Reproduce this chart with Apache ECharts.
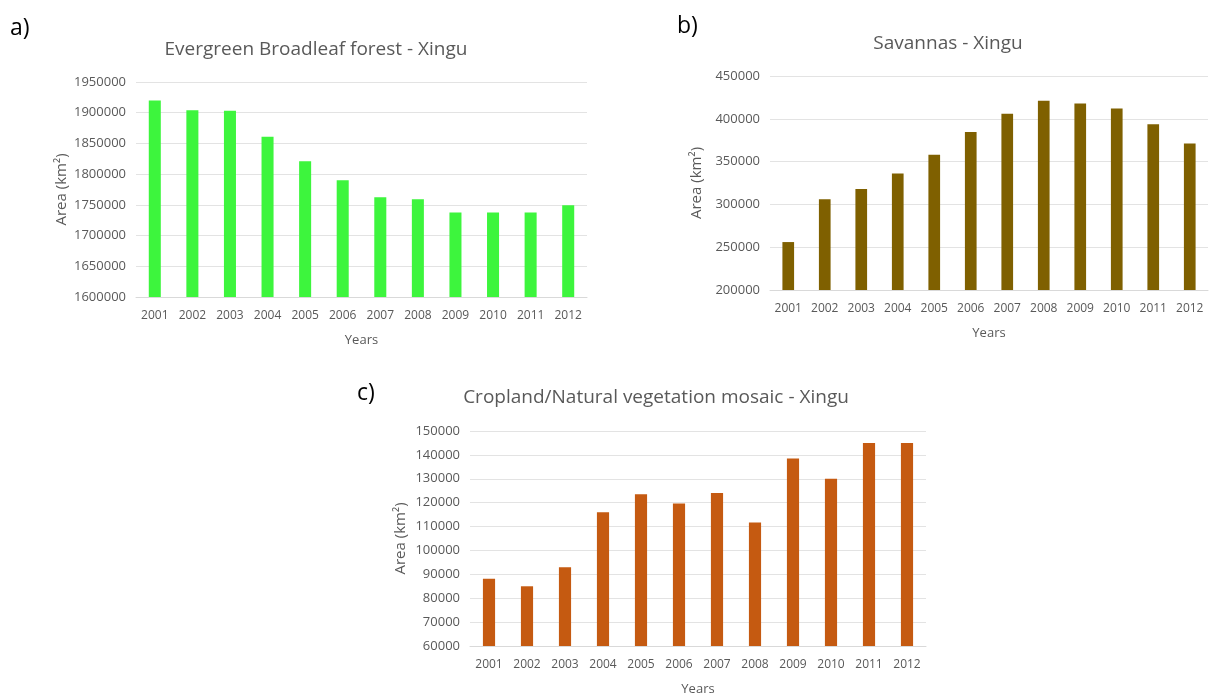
<!DOCTYPE html>
<html>
<head>
<meta charset="utf-8">
<script src="https://cdn.jsdelivr.net/npm/echarts@6/dist/echarts.min.js"></script>
<style>html,body{margin:0;padding:0;background:#fff}#c{width:1210px;height:693px}</style>
</head>
<body>
<div id="c"></div>
<script>
const years = ['2001','2002','2003','2004','2005','2006','2007','2008','2009','2010','2011','2012'];
const evergreen = [1920000, 1904000, 1903000, 1861000, 1821000, 1790000, 1762500, 1759000, 1737500, 1737500, 1737500, 1749500];
const savannas = [256000, 306000, 318000, 336000, 358000, 384500, 406000, 421000, 418000, 412000, 393500, 371000];
const cropland = [88200, 85000, 93000, 116000, 123500, 119700, 124000, 111700, 138500, 130000, 145000, 145000];
const titles = ['Evergreen Broadleaf forest - Xingu', 'Savannas - Xingu', 'Cropland/Natural vegetation mosaic - Xingu'];
const panelLabels = ['a)', 'b)', 'c)'];

const FONT = '"Open Sans", sans-serif';
const grey = '#595959';
const grids = [
  {left:136, top:82, width:451, height:215},
  {left:770, top:76, width:438, height:214},
  {left:470, top:431, width:456, height:215}
];
const yCfg = [
  {min:1600000, max:1950000, interval:50000, gap:67},
  {min:200000, max:450000, interval:50000, gap:66},
  {min:60000, max:150000, interval:10000, gap:62}
];
const colors = ['#3df53d', '#7f6000', '#c55a11'];
const data = [evergreen, savannas, cropland];
const titlePos = [{x:316,y:50},{x:948,y:44},{x:656,y:398}];
const labelPos = [{x:10,y:28},{x:677,y:26},{x:357,y:393}];

const option = {
  animation:false,
  backgroundColor:'#fff',
  grid: grids.map(g => Object.assign({containLabel:false, outerBoundsMode:'none'}, g)),
  xAxis: grids.map((g,i) => ({
    type:'category', gridIndex:i, data:years,
    axisLine:{lineStyle:{color:'#d9d9d9'}},
    axisTick:{show:false},
    axisLabel:{color:grey, fontFamily:FONT, fontSize:12, margin:13, interval:0},
    name:'Years', nameLocation:'middle', nameGap:37,
    nameTextStyle:{color:grey, fontFamily:FONT, fontSize:13}
  })),
  yAxis: yCfg.map((y,i) => ({
    type:'value', gridIndex:i, min:y.min, max:y.max, interval:y.interval,
    axisLine:{show:false}, axisTick:{show:false},
    splitLine:{lineStyle:{color:'#e3e3e3'}},
    axisLabel:{color:grey, fontFamily:FONT, fontSize:13, margin:10, formatter: v => String(v)},
    name:'Area (km²)', nameLocation:'middle', nameGap:y.gap,
    nameTextStyle:{color:grey, fontFamily:FONT, fontSize:15}
  })),
  series: data.map((d,i) => ({
    type:'bar', xAxisIndex:i, yAxisIndex:i, data:d, barWidth:'32%',
    itemStyle:{color:colors[i]}
  })),
  graphic: titles.map((t,i) => ({
    type:'text', x:titlePos[i].x, y:titlePos[i].y,
    style:{text:t, fill:grey, font:'19px '+FONT, textAlign:'center', textVerticalAlign:'middle'}
  })).concat(panelLabels.map((t,i) => ({
    type:'text', x:labelPos[i].x, y:labelPos[i].y,
    style:{text:t, fill:'#000', font:'23px '+FONT, textAlign:'left', textVerticalAlign:'middle'}
  })))
};
echarts.init(document.getElementById('c')).setOption(option);
</script>
</body>
</html>
